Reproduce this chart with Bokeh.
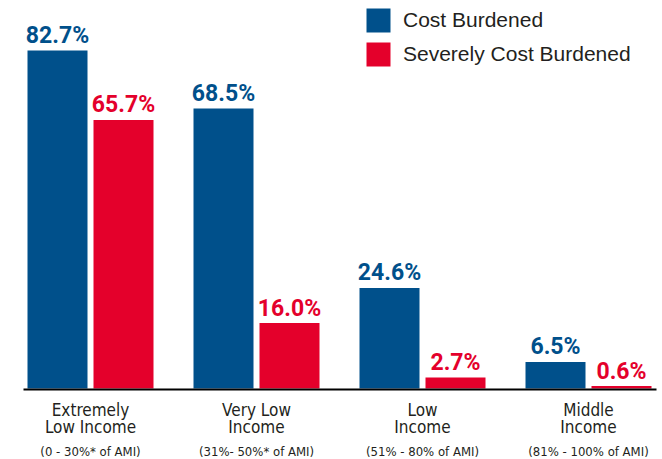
import numpy as np
from bokeh.plotting import figure
from bokeh.models import ColumnDataSource, Range1d, Legend, LegendItem
from bokeh.transform import dodge
from bokeh.core.properties import value
from bokeh.embed import file_html
from bokeh.resources import INLINE

# ---- data ----
label_line1 = ["Extremely", "Very Low", "Low", "Middle"]
label_line2 = ["Low Income", "Income", "Income", "Income"]
label_line3 = ["(0 - 30%* of AMI)", "(31%- 50%* of AMI)", "(51% - 80% of AMI)", "(81% - 100% of AMI)"]
cost_burdened = [82.7, 68.5, 24.6, 6.5]
severely_burdened = [65.7, 16.0, 2.7, 0.6]
series_names = ["Cost Burdened", "Severely Cost Burdened"]

BLUE = "#00508B"
RED = "#E4002B"
TEXT = "#231F20"
NARROW = "DejaVu Sans Condensed"

W, H = 662, 459
group_px = 166.0
px_per_pct = 338.0 / 82.7
x0_px = 90.0
base_px = 388.0

src = ColumnDataSource(dict(
    x=np.arange(len(cost_burdened)).astype(float),
    cost=cost_burdened,
    severe=severely_burdened,
    cost_lbl=[f"{v:.1f}%" for v in cost_burdened],
    severe_lbl=[f"{v:.1f}%" for v in severely_burdened],
    l1=label_line1, l2=label_line2, l3=label_line3,
    zero=[0.0] * len(cost_burdened),
))

p = figure(width=W, height=H, output_backend="svg", toolbar_location=None,
           x_axis_location=None, y_axis_location=None, min_border=0,
           x_range=Range1d(-x0_px / group_px, (W - x0_px) / group_px),
           y_range=Range1d(-(H - base_px) / px_per_pct, base_px / px_per_pct))
p.grid.visible = False
p.outline_line_color = None
p.background_fill_color = "white"

bw = 60.0 / group_px
off = 33.0 / group_px

r1 = p.vbar(x=dodge("x", -off, range=p.x_range), top="cost", bottom=0, width=bw,
            source=src, fill_color=BLUE, line_color=None)
r2 = p.vbar(x=dodge("x", off, range=p.x_range), top="severe", bottom=0, width=bw,
            source=src, fill_color=RED, line_color=None)

# baseline
p.segment(x0=[(23 - x0_px) / group_px], x1=[(656 - x0_px) / group_px], y0=[-0.25], y1=[-0.25],
          line_color="black", line_width=2)

# value labels
for col, lbl, o, c in (("cost", "cost_lbl", -off, BLUE), ("severe", "severe_lbl", off, RED)):
    p.text(x=dodge("x", o, range=p.x_range), y=col, text=lbl, source=src,
           text_align="center", text_baseline="alphabetic", y_offset=-15,
           text_font=value("Roboto"), text_font_style="bold",
           text_font_size="23px", text_color=c)

# category labels
for col, dy, fs in (("l1", 21, "17px"), ("l2", 38, "17px"), ("l3", 63, "13px")):
    p.text(x="x", y="zero", text=col, source=src, text_align="center",
           text_baseline="alphabetic", y_offset=dy,
           text_font=value(NARROW), text_font_size=fs,
           text_color=TEXT)

legend = Legend(items=[LegendItem(label=series_names[0], renderers=[r1]),
                       LegendItem(label=series_names[1], renderers=[r2])],
                location=(363, H - 5 - 64))
legend.glyph_width = 30
legend.glyph_height = 30
legend.label_standoff = 10
legend.spacing = 4
legend.padding = 0
legend.margin = 0
legend.border_line_color = None
legend.background_fill_alpha = 0
legend.label_text_font = "Liberation Sans"
legend.label_text_font_size = "21px"
legend.label_text_color = TEXT
legend.label_height = 30
p.add_layout(legend)

open("out.html", "w").write(file_html(p, INLINE))
